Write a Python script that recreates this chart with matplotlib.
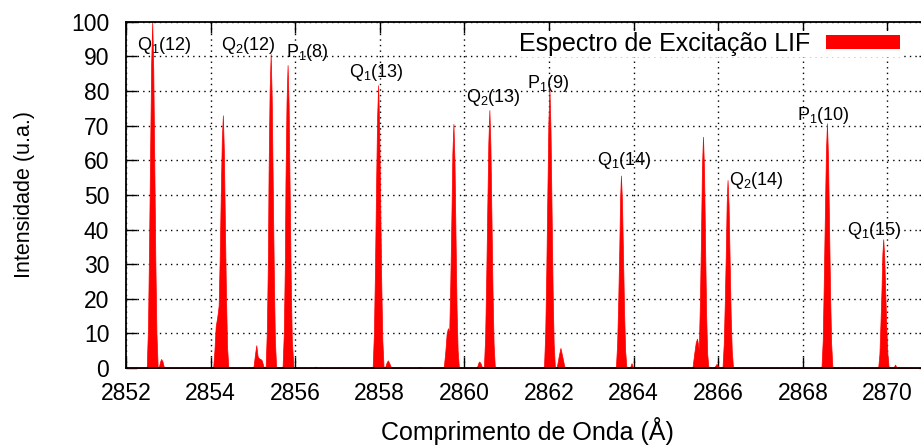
#!/usr/bin/env python3
# -*- coding: utf-8 -*-
"""Espectro de excitação LIF (OH, banda 1-0) com identificação das linhas."""

import matplotlib
matplotlib.use("Agg")
import matplotlib.pyplot as plt
from matplotlib.patches import Patch

plt.rcParams["font.family"] = ["Liberation Sans", "DejaVu Sans"]
plt.rcParams["mathtext.fontset"] = "custom"
plt.rcParams["mathtext.rm"] = "Liberation Sans"
plt.rcParams["mathtext.it"] = "Liberation Sans"

# ---------- dados ----------
# comprimento de onda (Å) e intensidade (u.a.), um bloco por linha do espectro
wavelength = [
    2852.00,
    2852.49, 2852.52, 2852.545, 2852.57, 2852.595, 2852.62, 2852.645, 2852.67, 2852.695, 2852.72, 2852.75,
    2852.77, 2852.81, 2852.83, 2852.86, 2852.90,
    2854.06, 2854.09, 2854.12, 2854.16, 2854.19, 2854.215, 2854.24, 2854.265, 2854.29, 2854.315, 2854.34, 2854.365, 2854.39, 2854.42,
    2855.01, 2855.05, 2855.08, 2855.11, 2855.14, 2855.18, 2855.21, 2855.26,
    2855.30, 2855.33, 2855.355, 2855.37, 2855.395, 2855.42, 2855.445, 2855.47, 2855.495, 2855.52, 2855.55,
    2855.70, 2855.73, 2855.755, 2855.77, 2855.795, 2855.82, 2855.845, 2855.87, 2855.895, 2855.92, 2855.96,
    2856.43, 2856.48, 2856.53,
    2857.83, 2857.86, 2857.885, 2857.91, 2857.935, 2857.96, 2857.985, 2858.01, 2858.035, 2858.06, 2858.09,
    2858.12, 2858.16, 2858.19, 2858.22, 2858.27,
    2858.88, 2858.93, 2858.98,
    2859.51, 2859.55, 2859.58, 2859.61, 2859.64, 2859.665, 2859.69, 2859.715, 2859.74, 2859.765, 2859.79, 2859.815, 2859.84, 2859.87,
    2860.29, 2860.33, 2860.35, 2860.38, 2860.42,
    2860.46, 2860.49, 2860.515, 2860.54, 2860.565, 2860.59, 2860.615, 2860.64, 2860.665, 2860.69, 2860.72,
    2861.88, 2861.91, 2861.935, 2861.96, 2861.985, 2862.01, 2862.035, 2862.06, 2862.085, 2862.11, 2862.14,
    2862.18, 2862.23, 2862.27, 2862.31, 2862.37,
    2863.58, 2863.61, 2863.635, 2863.66, 2863.68, 2863.70, 2863.725, 2863.75, 2863.775, 2863.80, 2863.83,
    2863.91, 2863.95, 2863.99,
    2865.39, 2865.43, 2865.47, 2865.50, 2865.54, 2865.565, 2865.59, 2865.615, 2865.64, 2865.665, 2865.69, 2865.715, 2865.74, 2865.77,
    2865.90, 2865.96, 2866.03,
    2866.10, 2866.13, 2866.155, 2866.18, 2866.20, 2866.22, 2866.245, 2866.27, 2866.295, 2866.32, 2866.35,
    2868.44, 2868.47, 2868.495, 2868.52, 2868.545, 2868.57, 2868.595, 2868.62, 2868.645, 2868.67, 2868.70,
    2869.78, 2869.81, 2869.835, 2869.86, 2869.88, 2869.90, 2869.925, 2869.95, 2869.975, 2870.00, 2870.03,
    2870.14, 2870.18, 2870.22,
    2871.00,
]
intensity = [
    0,
    0, 12, 35, 62, 88, 100, 86, 58, 30, 10, 0,
    0, 2.0, 2.6, 2.0, 0,
    0, 5, 12, 15, 18, 32, 50, 66, 73, 62, 40, 20, 6, 0,
    0, 4, 6.6, 3.5, 2.8, 2.6, 2.2, 0,
    0, 11, 32, 56, 80, 90.7, 78, 52, 27, 8, 0,
    0, 10, 30, 54, 77, 87.5, 76, 50, 25, 8, 0,
    0, 0.4, 0,
    0, 10, 28, 51, 72, 81.7, 70, 47, 24, 8, 0,
    0, 1.6, 2.2, 1.5, 0,
    0, 0.3, 0,
    0, 5, 10, 11.5, 10, 24, 42, 62, 70.5, 60, 38, 17, 5, 0,
    0, 1.5, 1.9, 1.4, 0,
    0, 9, 26, 46, 65, 74.5, 64, 43, 22, 7, 0,
    0, 10, 28, 50, 71, 80.5, 69, 46, 23, 7, 0,
    0, 3.5, 5.8, 3.5, 0,
    0, 7, 19, 34, 49, 55.6, 48, 32, 16, 5, 0,
    0, 1.4, 0,
    0, 4, 7.5, 8.5, 5.5, 18, 36, 58, 66.8, 57, 35, 15, 4, 0,
    0, 1.2, 0,
    0, 7, 19, 34, 48, 54.3, 47, 31, 15, 5, 0,
    0, 8, 25, 44, 62, 70.7, 61, 41, 21, 7, 0,
    0, 4, 13, 23, 33, 37.2, 32, 21, 11, 4, 0,
    0, 1.0, 0,
    0,
]
assert len(wavelength) == len(intensity)

# identificação das linhas rotacionais
line_labels = [r"Q$_1$(12)", r"Q$_2$(12)", r"P$_1$(8)", r"Q$_1$(13)", r"Q$_2$(13)",
               r"P$_1$(9)", r"Q$_1$(14)", r"Q$_2$(14)", r"P$_1$(10)", r"Q$_1$(15)"]
label_x = [2852.26, 2854.25, 2855.78, 2857.27, 2860.04,
           2861.48, 2863.13, 2866.26, 2867.86, 2869.04]
label_y = [93.3, 93.3, 91.2, 85.5, 78.0,
           82.3, 59.8, 54.3, 72.8, 39.8]

x_ticks = list(range(2852, 2871, 2))
y_ticks = list(range(0, 101, 10))


def main():
    fig = plt.figure(figsize=(9.21, 4.45), dpi=100)
    ax = fig.add_axes([0.1368, 0.173, 0.8727, 0.778])

    ax.fill_between(wavelength, intensity, 0, color="#ff0000", lw=0.5, zorder=2)

    for txt, x, y in zip(line_labels, label_x, label_y):
        ax.text(x, y, txt, fontsize=13, ha="left", va="center", zorder=1)

    ax.set_xlim(2852, 2871)
    ax.set_ylim(0, 100)
    ax.set_xticks(x_ticks)
    ax.set_yticks(y_ticks)
    ax.tick_params(direction="in", top=True, right=True, length=8, width=1.0,
                   labelsize=16.5)
    ax.tick_params(axis="x", pad=10)
    ax.tick_params(axis="y", pad=12)
    for s in ax.spines.values():
        s.set_linewidth(1.3)

    ax.grid(True, color="black", linestyle=(0, (1, 3)), linewidth=1.0)
    ax.set_axisbelow(True)

    ax.set_xlabel("Comprimento de Onda (Å)", fontsize=18, labelpad=9)
    ax.set_ylabel("Intensidade (u.a.)", fontsize=15.5, labelpad=26)

    leg = ax.legend(handles=[Patch(facecolor="#ff0000", edgecolor="none")],
                    labels=["Espectro de Excitação LIF"],
                    loc="center right", bbox_to_anchor=(901 / 921, 1 - 44 / 445),
                    bbox_transform=fig.transFigure,
                    markerfirst=False, fontsize=18, frameon=True, fancybox=False,
                    handlelength=2.95, handleheight=0.44, handletextpad=0.62,
                    borderpad=0.05, borderaxespad=0)
    leg.get_frame().set_facecolor("white")
    leg.get_frame().set_edgecolor("none")
    leg.get_frame().set_alpha(1.0)
    leg.set_zorder(5)

    fig.savefig("out.png", dpi=100)


if __name__ == "__main__":
    main()
